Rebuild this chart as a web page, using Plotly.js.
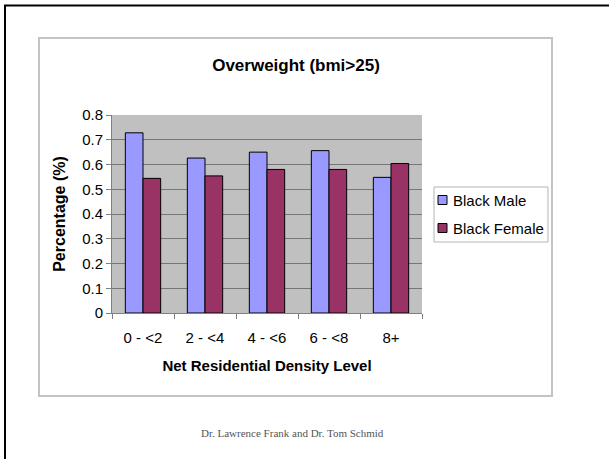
<!DOCTYPE html>
<html>
<head>
<meta charset="utf-8">
<script src="https://cdn.plot.ly/plotly-3.0.1.min.js"></script>
<style>html,body{margin:0;padding:0;background:#fff;overflow:hidden;}#chart{width:609px;height:459px;}</style>
</head>
<body>
<div id="chart"></div>
<script>
var categories = ["0 - <2", "2 - <4", "4 - <6", "6 - <8", "8+"];
var blackMale = [0.728, 0.626, 0.650, 0.656, 0.548];
var blackFemale = [0.544, 0.554, 0.580, 0.580, 0.604];
var seriesNames = ["Black Male", "Black Female"];
var seriesColors = ["#9999FF", "#993366"];
var yTicks = [0, 0.1, 0.2, 0.3, 0.4, 0.5, 0.6, 0.7, 0.8];
var yTickText = ["0", "0.1", "0.2", "0.3", "0.4", "0.5", "0.6", "0.7", "0.8"];

var L = 112, R = 422, T = 115, B = 313, W = 609, H = 459;
function px(x){ return (x - L) / (R - L); }
function py(y){ return (B - y) / (B - T); }

var seriesValues = [blackMale, blackFemale];
var traces = seriesValues.map(function(vals, i){
  return {type: "bar", name: seriesNames[i], x: categories, y: vals,
          marker: {color: seriesColors[i], line: {color: "#000000", width: 1}}};
});

var font = "'Liberation Sans', Arial, sans-serif";

var shapes = [
  {type: "line", xref: "paper", yref: "paper", x0: px(4), x1: px(612), y0: py(5.5), y1: py(5.5),
   line: {color: "#000000", width: 2}},
  {type: "line", xref: "paper", yref: "paper", x0: px(5), x1: px(5), y0: py(5), y1: py(462),
   line: {color: "#000000", width: 2}},
  {type: "rect", xref: "paper", yref: "paper", x0: px(39), x1: px(552), y0: py(38), y1: py(396),
   line: {color: "#c4c4c4", width: 2}, layer: "below"},
  {type: "rect", xref: "paper", yref: "paper", x0: px(434), x1: px(548), y0: py(187), y1: py(242),
   line: {color: "#b4b4b4", width: 1}, fillcolor: "#ffffff"}
];
var annotations = [
  {text: "Dr. Lawrence Frank and Dr. Tom Schmid", xref: "paper", yref: "paper",
   x: px(292), y: py(433), xanchor: "center", yanchor: "middle", showarrow: false,
   font: {family: "'Liberation Serif', 'Times New Roman', serif", size: 11, color: "#555555"}}
];
seriesNames.forEach(function(name, i){
  var cy = 200 + i * 28;
  shapes.push({type: "rect", xref: "paper", yref: "paper", x0: px(438), x1: px(447),
               y0: py(cy - 4.5), y1: py(cy + 4.5), fillcolor: seriesColors[i],
               line: {color: "#000000", width: 1}});
  annotations.push({text: name, xref: "paper", yref: "paper", x: px(451), y: py(cy),
                    xanchor: "left", yanchor: "middle", showarrow: false,
                    font: {family: font, size: 15, color: "#000000"}});
});

var layout = {
  width: W, height: H,
  margin: {l: L, r: W - R, t: T, b: H - B, pad: 0},
  paper_bgcolor: "#ffffff",
  plot_bgcolor: "#c0c0c0",
  barmode: "group",
  bargap: 0.43,
  bargroupgap: 0,
  showlegend: false,
  font: {family: font, size: 15, color: "#000000"},
  title: {text: "<b>Overweight (bmi>25)</b>", font: {family: font, size: 17, color: "#000"},
          xref: "container", yref: "container", x: 296 / W, y: 1 - 65 / H,
          xanchor: "center", yanchor: "middle"},
  xaxis: {
    type: "category", tickson: "boundaries", ticks: "outside", ticklen: 5, tickcolor: "#808080",
    showline: true, linecolor: "#808080", linewidth: 1, showgrid: false,
    ticklabelstandoff: 11, tickfont: {size: 15},
    title: {text: "<b>Net Residential Density Level</b>", font: {size: 15}, standoff: 15}
  },
  yaxis: {
    range: [0, 0.8], tickvals: yTicks, ticktext: yTickText, ticks: "outside", ticklen: 5,
    tickcolor: "#808080", showline: true, linecolor: "#808080", linewidth: 1,
    showgrid: true, gridcolor: "#777777", gridwidth: 1, zeroline: false,
    tickfont: {size: 15},
    title: {text: "<b>Percentage (%)</b>", font: {size: 16}, standoff: 12}
  },
  shapes: shapes,
  annotations: annotations
};

Plotly.newPlot("chart", traces, layout, {displayModeBar: false, staticPlot: true});
</script>
</body>
</html>
